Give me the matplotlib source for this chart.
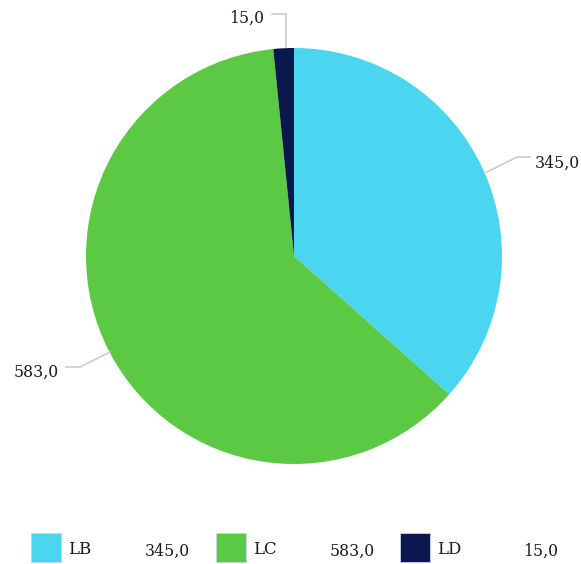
import matplotlib
matplotlib.use("Agg")
import matplotlib.pyplot as plt
from matplotlib.patches import Rectangle

categories = ["LB", "LC", "LD"]
values = [345.0, 583.0, 15.0]
colors = ["#4AD6F0", "#5CC945", "#0B174D"]
value_labels = ["345,0", "583,0", "15,0"]

W, H = 581, 564
fig = plt.figure(figsize=(W / 100, H / 100), dpi=100)
ax = fig.add_axes([0, 0, 1, 1])
ax.set_xlim(0, W)
ax.set_ylim(0, H)
ax.set_aspect("equal")
ax.axis("off")

cx, cy, r = 294, H - 256, 208
ax.pie(values, colors=colors, startangle=90, counterclock=False,
       center=(cx, cy), radius=r, frame=False,
       wedgeprops=dict(linewidth=0))
ax.set_xlim(0, W)
ax.set_ylim(0, H)

font = "DejaVu Serif"
lc = "#cccccc"
tc = "#1a1a1a"
fs = 11.3

def Y(y):
    return H - y

# 345,0
ax.plot([487, 517, 530], [Y(172), Y(157), Y(157)], color=lc, lw=1.2, clip_on=False)
ax.text(535, Y(163), value_labels[0], fontsize=fs, family=font, va="center", ha="left", color=tc)
# 583,0
ax.plot([110, 80, 66], [Y(352), Y(367), Y(367)], color=lc, lw=1.2, clip_on=False)
ax.text(59, Y(372), value_labels[1], fontsize=fs, family=font, va="center", ha="right", color=tc)
# 15,0
ax.plot([286, 286, 272], [Y(47), Y(14), Y(14)], color=lc, lw=1.2, clip_on=False)
ax.text(264, Y(18), value_labels[2], fontsize=fs, family=font, va="center", ha="right", color=tc)

# legend
sq_x = [31, 216, 400]
txt_x = [68, 253, 437]
val_x = [190, 375, 558]
for i in range(3):
    ax.add_patch(Rectangle((sq_x[i], Y(562)), 30, 29, facecolor=colors[i],
                           edgecolor="#c8d4dc", lw=0.6, clip_on=False))
    ax.text(txt_x[i], Y(549), categories[i], fontsize=12, family=font,
            va="center", ha="left", color=tc)
    ax.text(val_x[i], Y(551), value_labels[i], fontsize=fs, family=font,
            va="center", ha="right", color=tc)

fig.savefig("out.png", dpi=100)
